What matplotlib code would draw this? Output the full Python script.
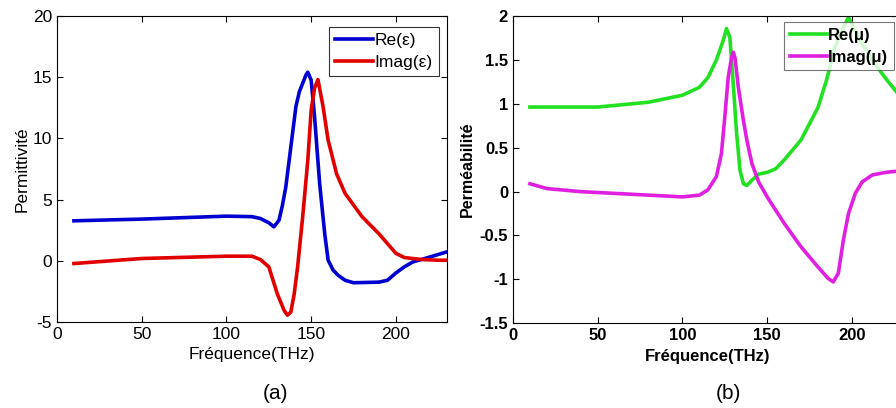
import matplotlib
matplotlib.use('Agg')
import matplotlib.pyplot as plt

plt.rcParams['font.family'] = ['Liberation Sans', 'DejaVu Sans']
plt.rcParams['axes.unicode_minus'] = False

# Permittivity data (panel a)
freq_re_eps = [10, 50, 100, 115, 120, 125, 128, 131, 133, 135, 138, 141, 143, 145, 147, 148, 150, 152, 155, 158, 160, 163, 166, 170, 175, 190, 195, 200, 205, 210, 220, 230]
re_eps = [3.26, 3.4, 3.64, 3.6, 3.45, 3.1, 2.77, 3.3, 4.5, 6.0, 9.3, 12.6, 13.8, 14.5, 15.2, 15.4, 14.75, 11.75, 6.3, 2.2, 0.04, -0.78, -1.2, -1.6, -1.8, -1.75, -1.6, -1.0, -0.5, -0.1, 0.3, 0.72]
freq_im_eps = [10, 50, 100, 115, 120, 125, 130, 134, 136, 138, 140, 142, 145, 148, 150, 152, 154, 157, 160, 165, 170, 180, 190, 195, 200, 205, 215, 225, 230]
im_eps = [-0.23, 0.18, 0.37, 0.37, 0.1, -0.5, -2.7, -4.05, -4.45, -4.2, -2.7, -0.5, 3.6, 8.2, 12.3, 14.1, 14.8, 12.6, 9.85, 7.1, 5.5, 3.6, 2.2, 1.4, 0.6, 0.26, 0.1, 0.04, 0.04]

# Permeability data (panel b)
freq_re_mu = [10, 50, 80, 100, 110, 115, 120, 124, 126, 128, 130, 132, 134, 136, 138, 141, 145, 150, 155, 160, 170, 180, 185, 190, 195, 198, 200, 205, 210, 215, 220, 225, 230]
re_mu = [0.965, 0.965, 1.02, 1.1, 1.19, 1.3, 1.5, 1.72, 1.86, 1.76, 1.23, 0.66, 0.24, 0.09, 0.07, 0.13, 0.2, 0.22, 0.26, 0.36, 0.59, 0.96, 1.27, 1.65, 1.87, 1.99, 1.91, 1.72, 1.57, 1.42, 1.29, 1.17, 1.05]
freq_im_mu = [10, 20, 40, 60, 80, 100, 110, 115, 120, 123, 125, 127, 129, 130, 131, 133, 136, 138, 141, 145, 150, 160, 170, 180, 186, 189, 192, 195, 198, 202, 206, 212, 220, 230]
im_mu = [0.09, 0.035, 0.0, -0.02, -0.04, -0.06, -0.04, 0.02, 0.17, 0.43, 0.85, 1.3, 1.53, 1.59, 1.53, 1.19, 0.81, 0.59, 0.32, 0.11, -0.06, -0.36, -0.63, -0.86, -0.99, -1.03, -0.93, -0.55, -0.25, -0.02, 0.11, 0.19, 0.22, 0.24]

fig = plt.figure(figsize=(8.96, 4.08), dpi=100)

# Panel (a)
ax1 = fig.add_axes([0.0636, 0.211, 0.435, 0.75])
ax1.plot(freq_re_eps, re_eps, color='#0000d0', lw=2.6, label='Re(ε)')
ax1.plot(freq_im_eps, im_eps, color='#e00000', lw=2.6, label='Imag(ε)')
ax1.set_xlim(0, 230)
ax1.set_ylim(-5, 20)
ax1.set_xticks([0, 50, 100, 150, 200])
ax1.set_yticks([-5, 0, 5, 10, 15, 20])
ax1.tick_params(direction='in', top=True, right=True, labelsize=12.5, length=4)
ax1.set_xlabel('Fréquence(THz)', fontsize=12.5, labelpad=4)
ax1.set_ylabel('Permittivité', fontsize=12.5, labelpad=2)
leg1 = ax1.legend(loc='upper right', fontsize=12.5, fancybox=False, edgecolor='black',
                  handlelength=2.2, handletextpad=0.1, borderaxespad=0, borderpad=0.35,
                  labelspacing=0.4, bbox_to_anchor=(0.49, 0.934), bbox_transform=fig.transFigure)
leg1.get_frame().set_linewidth(0.8)
fig.text(0.307, 0.035, '(a)', fontsize=15, ha='center', va='center')

# Panel (b)
ax2 = fig.add_axes([0.5725, 0.208, 0.435, 0.752])
ax2.plot(freq_re_mu, re_mu, color='#22e022', lw=2.6, label='Re(μ)')
ax2.plot(freq_im_mu, im_mu, color='#e020e0', lw=2.6, label='Imag(μ)')
ax2.set_xlim(0, 230)
ax2.set_ylim(-1.5, 2)
ax2.set_xticks([0, 50, 100, 150, 200])
ax2.set_yticks([-1.5, -1, -0.5, 0, 0.5, 1, 1.5, 2])
ax2.set_yticklabels(['-1.5', '-1', '-0.5', '0', '0.5', '1', '1.5', '2'])
ax2.tick_params(direction='in', top=True, right=True, labelsize=12, length=4)
for lbl in ax2.get_xticklabels() + ax2.get_yticklabels():
    lbl.set_fontweight('bold')
ax2.set_xlabel('Fréquence(THz)', fontsize=12, fontweight='bold', labelpad=4)
ax2.set_ylabel('Perméabilité', fontsize=11.5, fontweight='bold', labelpad=3)
leg2 = ax2.legend(loc='upper right', fancybox=False, edgecolor='#555555',
                  handlelength=2.2, handletextpad=0.1, borderaxespad=0, borderpad=0.35,
                  labelspacing=0.4, prop={'weight': 'bold', 'size': 12},
                  bbox_to_anchor=(0.998, 0.946), bbox_transform=fig.transFigure)
leg2.get_frame().set_linewidth(0.8)
fig.text(0.8125, 0.035, '(b)', fontsize=15, ha='center', va='center')

plt.savefig('out.png', dpi=100)
